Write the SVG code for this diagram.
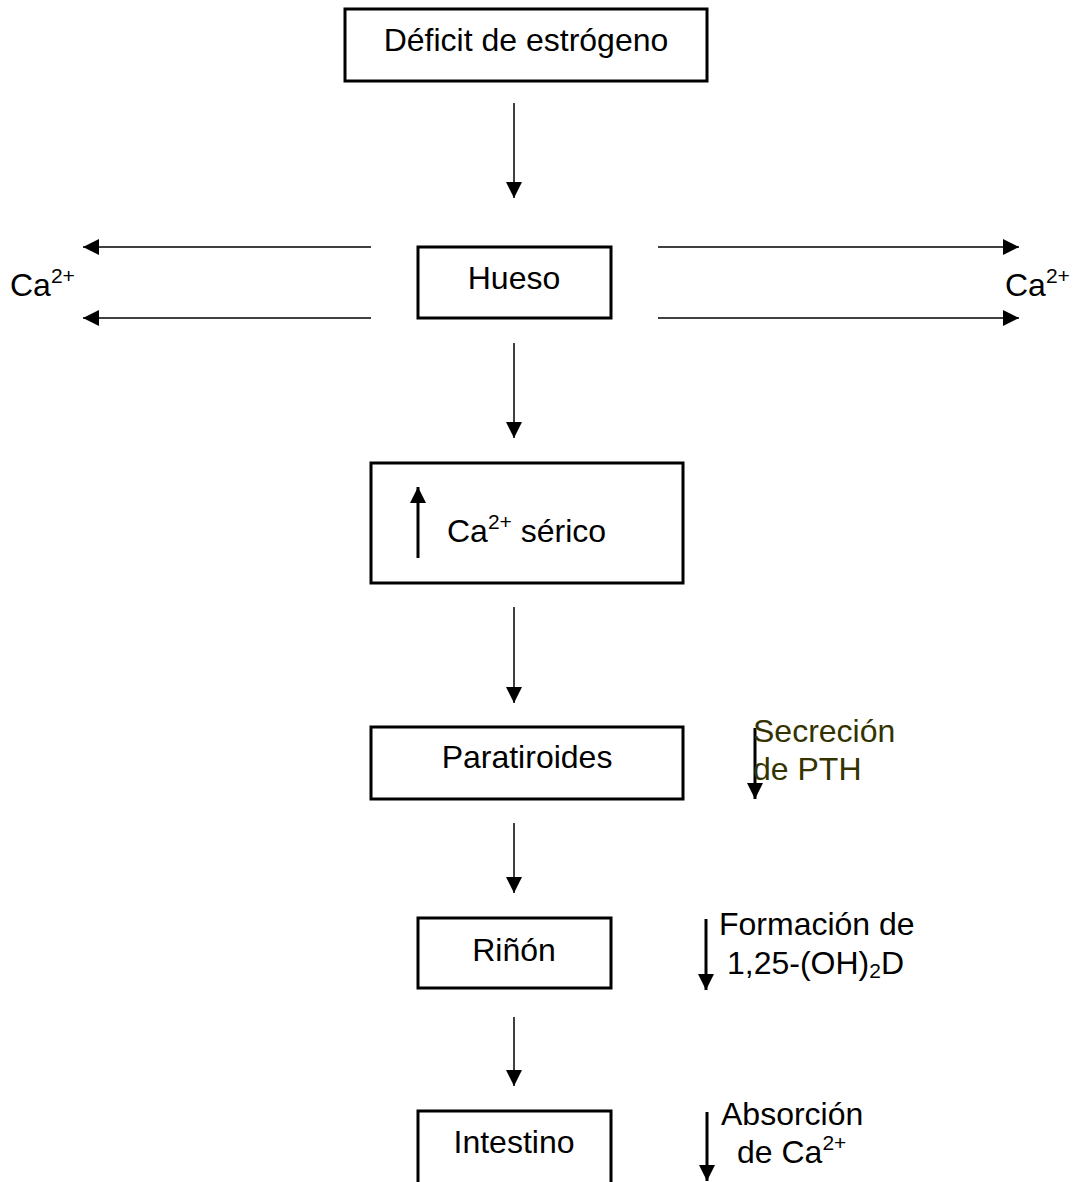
<svg xmlns="http://www.w3.org/2000/svg" width="1076" height="1182" viewBox="0 0 1076 1182">
  <style>
    .box { fill: #fff; stroke: #000; stroke-width: 3; }
    .txt { font-family: "Liberation Sans", Arial, sans-serif; font-size: 32px; fill: #000; }
    .olive { fill: #333300; }
    .line { stroke: #000; stroke-width: 1.5; fill: none; }
    .thick { stroke: #000; stroke-width: 3; fill: none; }
    .sup { font-size: 21px; }
  </style>
  <defs>
    <marker id="ah" viewBox="0 0 16 16" refX="16" refY="8" markerWidth="16" markerHeight="16" markerUnits="userSpaceOnUse" orient="auto">
      <path d="M0,0 L16,8 L0,16 Z" fill="#000"/>
    </marker>
  </defs>
  <rect width="1076" height="1182" fill="#fff"/>

  <g id="connectors">
    <line class="line" x1="514" y1="103" x2="514" y2="198" marker-end="url(#ah)"/>
    <line class="line" x1="514" y1="343" x2="514" y2="438" marker-end="url(#ah)"/>
    <line class="line" x1="514" y1="607" x2="514" y2="703" marker-end="url(#ah)"/>
    <line class="line" x1="514" y1="823" x2="514" y2="893" marker-end="url(#ah)"/>
    <line class="line" x1="514" y1="1017" x2="514" y2="1086" marker-end="url(#ah)"/>
    <line class="line" x1="371" y1="247" x2="83" y2="247" marker-end="url(#ah)"/>
    <line class="line" x1="371" y1="318" x2="83" y2="318" marker-end="url(#ah)"/>
    <line class="line" x1="658" y1="247" x2="1019" y2="247" marker-end="url(#ah)"/>
    <line class="line" x1="658" y1="318" x2="1019" y2="318" marker-end="url(#ah)"/>
  </g>

  <g id="deficit">
    <rect class="box" x="345" y="9" width="362" height="72"/>
    <text class="txt" x="526" y="51" text-anchor="middle">Déficit de estrógeno</text>
  </g>

  <g id="hueso">
    <rect class="box" x="418" y="247" width="193" height="71"/>
    <text class="txt" x="514" y="289" text-anchor="middle">Hueso</text>
  </g>

  <g id="ca-left">
    <text class="txt" x="10" y="296">Ca<tspan class="sup" dy="-13">2+</tspan></text>
  </g>
  <g id="ca-right">
    <text class="txt" x="1005" y="296">Ca<tspan class="sup" dy="-13">2+</tspan></text>
  </g>

  <g id="ca-serico">
    <rect class="box" x="371" y="463" width="312" height="120"/>
    <line class="thick" x1="418" y1="558" x2="418" y2="487" marker-end="url(#ah)"/>
    <text class="txt" x="447" y="542">Ca<tspan class="sup" dy="-13">2+</tspan><tspan dy="13"> sérico</tspan></text>
  </g>

  <g id="paratiroides">
    <rect class="box" x="371" y="727" width="312" height="72"/>
    <text class="txt" x="527" y="768" text-anchor="middle">Paratiroides</text>
  </g>

  <g id="secrecion-pth">
    <line class="thick" x1="755" y1="728" x2="755" y2="799" marker-end="url(#ah)"/>
    <text class="txt olive" x="753" y="742">Secreción</text>
    <text class="txt olive" x="753" y="780">de PTH</text>
  </g>

  <g id="rinon">
    <rect class="box" x="418" y="918" width="193" height="70"/>
    <text class="txt" x="514" y="961" text-anchor="middle">Riñón</text>
  </g>

  <g id="formacion">
    <line class="thick" x1="706" y1="919" x2="706" y2="990" marker-end="url(#ah)"/>
    <text class="txt" x="719" y="935">Formación de</text>
    <text class="txt" x="727" y="974">1,25-(OH)<tspan class="sup" dy="4">2</tspan><tspan dy="-4">D</tspan></text>
  </g>

  <g id="intestino">
    <rect class="box" x="418" y="1111" width="193" height="80"/>
    <text class="txt" x="514" y="1153" text-anchor="middle">Intestino</text>
  </g>

  <g id="absorcion">
    <line class="thick" x1="707" y1="1112" x2="707" y2="1181" marker-end="url(#ah)"/>
    <text class="txt" x="721" y="1125">Absorción</text>
    <text class="txt" x="737" y="1163">de Ca<tspan class="sup" dy="-13">2+</tspan></text>
  </g>
</svg>
